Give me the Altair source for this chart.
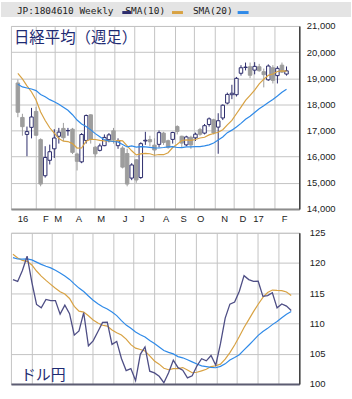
import altair as alt
import pandas as pd

# ---------------- data ----------------
weeks = [
    "2016-01-04", "2016-01-11", "2016-01-18", "2016-01-25", "2016-02-01", "2016-02-08",
    "2016-02-15", "2016-02-22", "2016-02-29", "2016-03-07", "2016-03-14", "2016-03-21",
    "2016-03-28", "2016-04-04", "2016-04-11", "2016-04-18", "2016-04-25", "2016-05-02",
    "2016-05-09", "2016-05-16", "2016-05-23", "2016-05-30", "2016-06-06", "2016-06-13",
    "2016-06-20", "2016-06-27", "2016-07-04", "2016-07-11", "2016-07-18", "2016-07-25",
    "2016-08-01", "2016-08-08", "2016-08-15", "2016-08-22", "2016-08-29", "2016-09-05",
    "2016-09-12", "2016-09-19", "2016-09-26", "2016-10-03", "2016-10-10", "2016-10-17",
    "2016-10-24", "2016-10-31", "2016-11-07", "2016-11-14", "2016-11-21", "2016-11-28",
    "2016-12-05", "2016-12-12", "2016-12-19", "2016-12-26", "2017-01-02", "2017-01-09",
    "2017-01-16", "2017-01-23", "2017-01-30", "2017-02-06", "2017-02-13", "2017-02-20",
]

opens = [18818, 17500, 16850, 17120, 17730, 16650, 15270, 15860, 16300, 16780,
         17080, 16990, 17050, 16100, 15800, 16620, 17600, 16360, 16240, 16420,
         16650, 16990, 16420, 16330, 16120, 15180, 15880, 15200, 16600, 16650,
         16440, 16470, 16900, 16610, 16660, 17150, 16780, 16450, 16740, 16720,
         17030, 16900, 17230, 17410, 17130, 17480, 18050, 18370, 18370, 19190,
         19410, 19440, 19310, 19440, 19250, 18940, 19400, 19100, 19500, 19160]
highs = [18951, 17640, 17150, 17865, 17905, 16700, 16400, 16460, 17050, 17100,
         17290, 17100, 17100, 16150, 16900, 17613, 17620, 16400, 16500, 16850,
         16900, 17100, 16700, 16400, 16300, 15750, 15900, 16550, 16950, 16800,
         16700, 17000, 16950, 16650, 16950, 17200, 16800, 16800, 16800, 16920,
         17100, 17250, 17500, 17450, 17660, 18000, 18450, 18750, 19050, 19500,
         19600, 19600, 19615, 19550, 19370, 19530, 19500, 19460, 19600, 19450]
lows = [17509, 16800, 16017, 16700, 16790, 14865, 15200, 15700, 15950, 16500,
        16600, 16800, 16100, 15470, 15750, 16500, 16500, 15975, 16200, 16400,
        16550, 16500, 16300, 15550, 14864, 15100, 15000, 15150, 16450, 16400,
        16000, 16350, 16450, 16300, 16500, 16850, 16350, 16400, 16300, 16600,
        16800, 16850, 17150, 16850, 16111, 17400, 18000, 18200, 18300, 19100,
        19300, 19000, 19150, 19250, 18650, 18900, 18800, 18800, 19200, 19100]
closes = [17698, 17147, 16958, 17518, 16819, 14952, 15967, 16188, 16714, 16938,
          16724, 17002, 16164, 15821, 16848, 17572, 16666, 16106, 16412, 16736,
          16834, 16642, 16601, 15599, 14952, 15682, 15106, 16497, 16627, 16569,
          16254, 16919, 16545, 16360, 16925, 16965, 16519, 16754, 16449, 16860,
          16856, 17184, 17446, 16905, 17374, 17967, 18381, 18426, 18996, 19401,
          19427, 19114, 19454, 19287, 19137, 19467, 18918, 19378, 19234, 19283]

nk_sma10 = [19184, 18973, 18709, 18473, 18166, 17711, 17385, 17105, 16899, 16690,
            16593, 16578, 16499, 16329, 16332, 16594, 16664, 16656, 16625, 16605,
            16616, 16580, 16624, 16602, 16412, 16223, 16067, 16106, 16128, 16111,
            16053, 16081, 16075, 16151, 16348, 16477, 16618, 16644, 16626, 16655,
            16715, 16742, 16832, 16886, 16931, 17031, 17218, 17385, 17640, 17894,
            18151, 18344, 18545, 18783, 18959, 19109, 19163, 19258, 19282, 19270]
nk_sma20 = [18767, 18668, 18626, 18589, 18526, 18380, 18292, 18180, 18101, 18006,
            17888, 17775, 17604, 17401, 17249, 17152, 17024, 16880, 16762, 16648,
            16604, 16579, 16561, 16465, 16372, 16408, 16365, 16381, 16376, 16358,
            16335, 16330, 16349, 16376, 16380, 16350, 16343, 16375, 16377, 16383,
            16384, 16411, 16453, 16519, 16640, 16754, 16918, 17014, 17133, 17274,
            17433, 17543, 17688, 17835, 17945, 18070, 18190, 18321, 18461, 18582]

usdjpy = [117.25, 116.95, 118.77, 121.13, 116.85, 113.15, 112.58, 113.98, 113.78, 113.78,
          111.55, 113.02, 111.62, 108.07, 108.76, 111.80, 106.31, 107.12, 108.62, 110.17,
          110.22, 106.54, 107.03, 104.20, 102.21, 102.54, 100.55, 104.89, 106.11, 102.10,
          101.82, 101.26, 100.21, 101.84, 103.93, 102.69, 102.27, 100.99, 101.35, 102.97,
          104.17, 103.82, 104.70, 103.10, 106.66, 110.89, 113.20, 113.53, 115.32, 117.91,
          117.26, 116.96, 116.99, 114.49, 114.61, 115.07, 112.58, 113.22, 112.87, 112.13]
fx_sma10 = [121.45, 120.82, 120.44, 120.27, 119.68, 118.68, 117.84, 117.12, 116.46, 115.82,
            115.25, 114.86, 114.14, 112.84, 112.03, 111.89, 111.27, 110.58, 110.07, 109.70,
            109.57, 108.92, 108.46, 108.08, 107.42, 106.50, 105.92, 105.70, 105.45, 104.64,
            103.80, 103.27, 102.59, 102.35, 102.53, 102.54, 102.71, 102.32, 101.85, 101.93,
            102.17, 102.42, 102.87, 103.00, 103.27, 104.09, 105.19, 106.44, 107.84, 109.33,
            110.64, 111.95, 113.18, 114.32, 115.12, 115.53, 115.47, 115.44, 115.20, 114.62]
fx_sma20 = [120.90, 120.66, 120.65, 120.68, 120.52, 120.15, 119.78, 119.47, 119.19, 118.80,
            118.35, 117.84, 117.29, 116.55, 115.85, 115.29, 114.55, 113.85, 113.26, 112.76,
            112.41, 111.89, 111.30, 110.46, 109.73, 109.20, 108.59, 108.14, 107.76, 107.17,
            106.69, 106.10, 105.53, 105.22, 104.97, 104.52, 104.32, 104.01, 103.65, 103.29,
            102.98, 102.85, 102.73, 102.68, 102.90, 103.32, 103.95, 104.38, 104.84, 105.63,
            106.40, 107.19, 108.03, 108.66, 109.19, 109.81, 110.33, 110.94, 111.52, 111.97]

month_starts = ["2016-02-01", "2016-03-01", "2016-04-01", "2016-05-01", "2016-06-01",
                "2016-07-01", "2016-08-01", "2016-09-01", "2016-10-01", "2016-11-01",
                "2016-12-01", "2017-01-01", "2017-02-01"]
month_labels = ["16", "F", "M", "A", "M", "J", "J", "A", "S", "O", "N", "D", "17", "F"]
label_dates = ["2016-01-12", "2016-02-16", "2016-03-06", "2016-04-07", "2016-05-11",
               "2016-06-17", "2016-07-13", "2016-08-19", "2016-09-15", "2016-10-11",
               "2016-11-17", "2016-12-15", "2017-01-08", "2017-02-17"]
nk_ticks = [14000, 15000, 16000, 17000, 18000, 19000, 20000, 21000]
fx_ticks = [100, 105, 110, 115, 120, 125]

title_top = "日経平均（週足）"
title_bottom = "ドル円"
header_text = "JP:1804610 Weekly"
legend_names = ["SMA(10)", "SMA(20)"]

# ---------------- styles ----------------
NAVY = "#2c2c6c"
DOWN = "#9d9d9d"
ORANGE = "#d8a243"
BLUE = "#2f8ae8"
FXLINE = "#4e4e85"
GRID = "#c4c4c4"
TXT = "#222222"
TITLE_C = "#1d2a72"
LABEL_FONT = "Liberation Sans"


def utc(s):
    t = pd.Timestamp(s)
    return alt.DateTime(year=t.year, month=t.month, date=t.day, utc=True)


xscale = alt.Scale(type="utc", domain=[utc("2016-01-01"), utc("2017-03-04")])
grid_vals = [utc(s) for s in month_starts]


def x_axis(domain_color):
    return alt.Axis(values=grid_vals, labels=False, ticks=False, grid=True,
                    gridColor=GRID, gridWidth=1, domainColor=domain_color,
                    domainWidth=2, title=None)


X_TOP = alt.X("date:T", scale=xscale, axis=x_axis("#8c8c8c"), title=None)
X_BOT = alt.X("date:T", scale=xscale, axis=x_axis("#5c5c72"), title=None)

y_top_scale = alt.Scale(domain=[14000, 21000], nice=False, zero=False)
y_top_axis = alt.Axis(orient="right", values=nk_ticks, format=",d", grid=True,
                      gridColor=GRID, ticks=False, labelPadding=7,
                      domainColor="#3c3c3c", domainWidth=1.5, title=None)
y_bot_scale = alt.Scale(domain=[100, 125], nice=False, zero=False)
y_bot_axis = alt.Axis(orient="right", values=fx_ticks, format="d", grid=True,
                      gridColor=GRID, ticks=False, labelPadding=10,
                      domainColor="#3c3c3c", domainWidth=1.5, title=None)

one = pd.DataFrame({"k": [0]})

# ---------------- top panel ----------------
cdf = pd.DataFrame({"date": weeks, "open": opens, "high": highs,
                    "low": lows, "close": closes})
cdf["dir"] = ["up" if c >= o else "down" for o, c in zip(opens, closes)]

dir_stroke = alt.Scale(domain=["up", "down"], range=[NAVY, DOWN])
dir_fill = alt.Scale(domain=["up", "down"], range=["#ffffff", DOWN])

header_bg = alt.Chart(one).mark_rect(color="#e4e4e4").encode(
    x=alt.value(-10), x2=alt.value(342), y=alt.value(-24), y2=alt.value(-9))


def htext(txt, xpos):
    return alt.Chart(pd.DataFrame({"t": [txt]})).mark_text(
        align="left", baseline="middle", font="DejaVu Sans Mono",
        fontSize=9.5, color=TXT).encode(x=alt.value(xpos), y=alt.value(-15.5), text="t:N")


def dash(x1, x2, col):
    return alt.Chart(one).mark_rect(color=col).encode(
        x=alt.value(x1), x2=alt.value(x2), y=alt.value(-15), y2=alt.value(-12))


wick = alt.Chart(cdf).mark_rule(strokeWidth=1).encode(
    x=X_TOP,
    y=alt.Y("low:Q", scale=y_top_scale, axis=y_top_axis, title=None),
    y2="high:Q",
    stroke=alt.Stroke("dir:N", scale=dir_stroke, legend=None))

body = alt.Chart(cdf).mark_bar(size=3.5, strokeWidth=1).encode(
    x=X_TOP,
    y=alt.Y("open:Q", scale=y_top_scale, axis=y_top_axis, title=None),
    y2="close:Q",
    fill=alt.Fill("dir:N", scale=dir_fill, legend=None),
    stroke=alt.Stroke("dir:N", scale=dir_stroke, legend=None))

sdf = pd.DataFrame({"date": weeks + weeks, "value": nk_sma10 + nk_sma20,
                    "series": [legend_names[0]] * len(weeks) + [legend_names[1]] * len(weeks)})
sma_color = alt.Scale(domain=legend_names, range=[ORANGE, BLUE])
nk_lines = alt.Chart(sdf).mark_line(strokeWidth=1.2).encode(
    x=X_TOP,
    y=alt.Y("value:Q", scale=y_top_scale, axis=y_top_axis, title=None),
    color=alt.Color("series:N", scale=sma_color, legend=None))

ldf = pd.DataFrame({"date": label_dates, "label": month_labels})
xlabels = alt.Chart(ldf).mark_text(
    align="center", baseline="middle", font=LABEL_FONT, fontSize=9.5, color=TXT).encode(
    x=X_TOP, y=alt.value(194), text="label:N")

title1 = alt.Chart(pd.DataFrame({"t": [title_top]})).mark_text(
    align="left", baseline="middle", font="Noto Sans CJK JP", fontSize=15.5,
    color=TITLE_C).encode(x=alt.value(3), y=alt.value(12.5), text="t:N")

top = alt.layer(
    header_bg,
    htext(header_text, 6),
    htext(legend_names[0], 115),
    dash(112, 121, NAVY),
    dash(162, 173, ORANGE),
    htext(legend_names[1], 183),
    dash(228, 239, BLUE),
    wick, body, nk_lines, title1, xlabels,
).properties(width=290, height=184)

# ---------------- bottom panel ----------------
fdf = pd.DataFrame({"date": weeks + weeks, "value": fx_sma10 + fx_sma20,
                    "series": [legend_names[0]] * len(weeks) + [legend_names[1]] * len(weeks)})
fx_sma = alt.Chart(fdf).mark_line(strokeWidth=1.2).encode(
    x=X_BOT,
    y=alt.Y("value:Q", scale=y_bot_scale, axis=y_bot_axis, title=None),
    color=alt.Color("series:N", scale=sma_color, legend=None))

fx_line = alt.Chart(pd.DataFrame({"date": weeks, "value": usdjpy})).mark_line(
    strokeWidth=1.3, color=FXLINE).encode(
    x=X_BOT,
    y=alt.Y("value:Q", scale=y_bot_scale, axis=y_bot_axis, title=None))

title2 = alt.Chart(pd.DataFrame({"t": [title_bottom]})).mark_text(
    align="left", baseline="middle", font="Noto Sans CJK JP", fontSize=15,
    color=TITLE_C).encode(x=alt.value(10), y=alt.value(143.5), text="t:N")

bottom = alt.layer(fx_sma, fx_line, title2).properties(width=290, height=152)

chart = alt.vconcat(top, bottom, spacing=24, bounds="flush").properties(
    padding=0, background="white"
).configure_view(stroke=GRID, strokeWidth=1).configure_axis(
    labelFont=LABEL_FONT, labelFontSize=9.5, labelColor=TXT)

chart.save("out.html", embed_options={"renderer": "svg", "actions": False})
